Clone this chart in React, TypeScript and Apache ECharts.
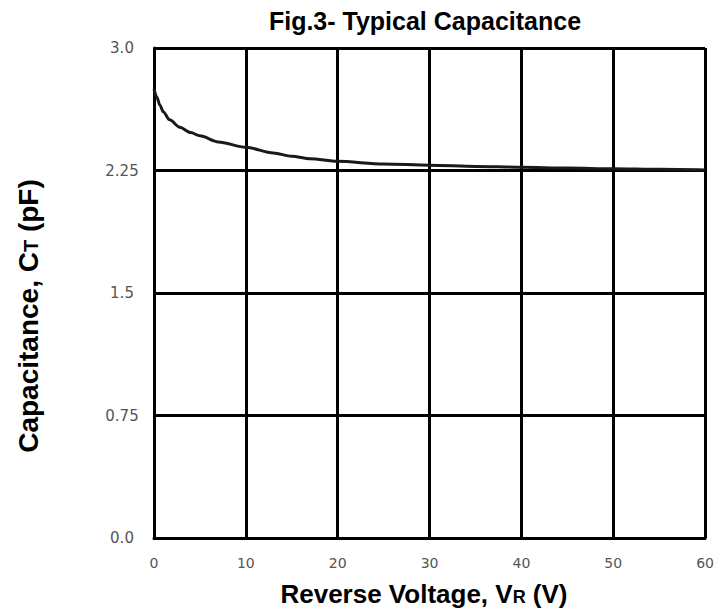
import React, { useEffect, useRef } from "react";
import * as echarts from "echarts";

const voltage = [0, 0.3, 0.65, 1, 1.7, 2.8, 4, 5, 7, 10, 13, 15, 17, 20, 25, 30, 35, 40, 45, 50, 55, 60];
const capacitance = [2.75, 2.7, 2.65, 2.61, 2.56, 2.515, 2.482, 2.462, 2.425, 2.392, 2.357, 2.337, 2.322, 2.306, 2.29, 2.282, 2.275, 2.27, 2.265, 2.261, 2.257, 2.253];
const yTickLabels = ["0.0", "0.75", "1.5", "2.25", "3.0"];
const xTicks = [0, 10, 20, 30, 40, 50, 60];

const titleText = "Fig.3- Typical Capacitance";

export default function App() {
  const ref = useRef<HTMLDivElement>(null);
  useEffect(() => {
    if (!ref.current) return;
    const chart = echarts.init(ref.current, null, { renderer: "svg" });
    const fontTitle = "Liberation Sans, Arial, sans-serif";
    const fontTick = "DejaVu Sans, sans-serif";
    chart.setOption({
      animation: false,
      backgroundColor: "#ffffff",
      grid: { left: 154, right: 3, top: 48, bottom: 76, containLabel: false },
      xAxis: {
        type: "value",
        min: 0,
        max: 60,
        interval: 10,
        axisLine: { show: true, lineStyle: { color: "#000", width: 3 } },
        axisTick: { show: false },
        splitLine: { show: true, lineStyle: { color: "#000", width: 3 } },
        axisLabel: {
          margin: 18,
          color: "#555",
          fontSize: 14,
          fontFamily: fontTick,
          formatter: (v: number) => (xTicks.includes(v) ? String(v) : ""),
        },
      },
      yAxis: {
        type: "value",
        min: 0,
        max: 3,
        interval: 0.75,
        axisLine: { show: true, lineStyle: { color: "#000", width: 3 } },
        axisTick: { show: false },
        splitLine: { show: true, lineStyle: { color: "#000", width: 3 } },
        axisLabel: {
          margin: 32,
          align: "center",
          color: "#555",
          fontSize: 15,
          fontFamily: fontTick,
          formatter: (v: number) => {
            const i = Math.round(v / 0.75);
            return yTickLabels[i] ?? "";
          },
        },
      },
      series: [
        {
          type: "line",
          data: voltage.map((v, i) => [v, capacitance[i]]),
          smooth: 0.3,
          smoothMonotone: "x",
          showSymbol: false,
          lineStyle: { color: "#1c1819", width: 3 },
          z: 5,
        },
      ],
      graphic: [
        {
          type: "text",
          style: {
            text: titleText,
            x: 425,
            y: 21,
            align: "center",
            verticalAlign: "middle",
            fontSize: 25,
            fontWeight: "bold",
            fontFamily: fontTitle,
            fill: "#000",
          },
        },
        {
          type: "text",
          style: {
            text: "{b|Reverse Voltage, V}{s|R}{b| (V)}",
            x: 424,
            y: 594,
            align: "center",
            verticalAlign: "middle",
            fontFamily: fontTitle,
            fill: "#000",
            rich: {
              b: { fontSize: 26, fontWeight: "bold", fontFamily: fontTitle, fill: "#000" },
              s: { fontSize: 18, fontWeight: "bold", fontFamily: fontTitle, fill: "#000", verticalAlign: "bottom", padding: [0, 0, 1, 0] },
            },
          },
        },
        {
          type: "text",
          x: 28,
          y: 316,
          rotation: Math.PI / 2,
          style: {
            text: "{b|Capacitance, C}{s|T}{b| (pF)}",
            x: 0,
            y: 0,
            align: "center",
            verticalAlign: "middle",
            fontFamily: fontTitle,
            fill: "#000",
            rich: {
              b: { fontSize: 28, fontWeight: "bold", fontFamily: fontTitle, fill: "#000" },
              s: { fontSize: 20, fontWeight: "bold", fontFamily: fontTitle, fill: "#000", verticalAlign: "bottom", padding: [0, 0, 1, 0] },
            },
          },
        },
      ],
    });
    return () => chart.dispose();
  }, []);
  return (
    <div
      ref={ref}
      style={{ position: "fixed", left: 0, top: 0, width: 717, height: 614, background: "#fff" }}
    />
  );
}
